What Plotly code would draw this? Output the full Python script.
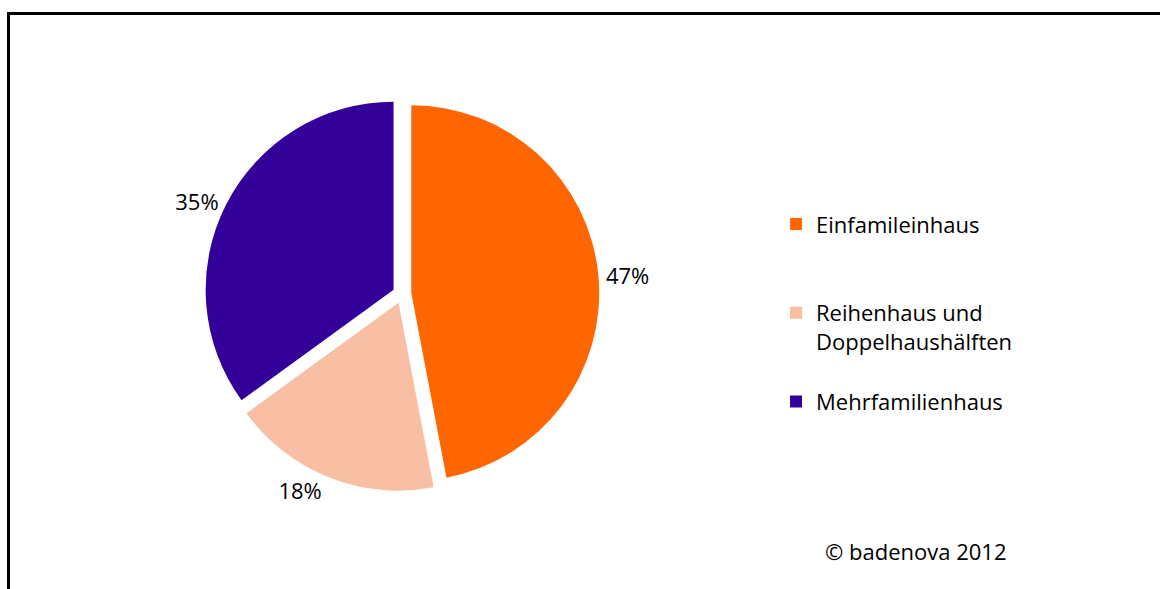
import plotly.graph_objects as go

# Anteile der Gebäudetypen (in Prozent)
categories = ["Einfamileinhaus", "Reihenhaus und<br>Doppelhaushälften", "Mehrfamilienhaus"]
values = [47, 18, 35]
colors = ["#FF6600", "#F8BFA5", "#330099"]

# padding lines to spread legend entries like the original
legend_labels = [categories[0] + "<br> <br> ", categories[1] + "<br> ", categories[2]]

W, H = 1160, 589

fig = go.Figure(go.Pie(
    labels=legend_labels,
    values=values,
    sort=False,
    direction="clockwise",
    rotation=0,
    pull=[0.05, 0.05, 0.05],
    marker=dict(colors=colors, line=dict(width=0)),
    textinfo="percent",
    textposition="outside",
    textfont=dict(size=22, color="#000000"),
    hoverinfo="skip",
    domain=dict(x=[0.1764, 0.5166], y=[0.1657, 0.836]),
))

fig.update_layout(
    width=W, height=H,
    margin=dict(l=0, r=0, t=0, b=0),
    paper_bgcolor="white",
    plot_bgcolor="white",
    font=dict(family="Open Sans, Noto Sans, sans-serif", size=22, color="#000000"),
    legend=dict(
        x=0.669, y=0.655, xanchor="left", yanchor="top",
        valign="top",
        font=dict(size=22),
        bgcolor="rgba(0,0,0,0)",
    ),
    annotations=[dict(
        text="© badenova 2012", x=916 / W, y=1 - 551 / H,
        xref="paper", yref="paper", xanchor="center", yanchor="middle",
        showarrow=False,
        font=dict(size=22, color="#000000"),
    )],
    shapes=[
        dict(type="line", xref="paper", yref="paper", x0=8 / W, x1=1, y0=1 - 13.5 / H, y1=1 - 13.5 / H,
             line=dict(color="black", width=3)),
        dict(type="line", xref="paper", yref="paper", x0=8.5 / W, x1=8.5 / W, y0=0, y1=1 - 12 / H,
             line=dict(color="black", width=3)),
    ],
)

fig.write_html("out.html", config={"displayModeBar": False},
               post_script="document.body.style.margin='0';")
